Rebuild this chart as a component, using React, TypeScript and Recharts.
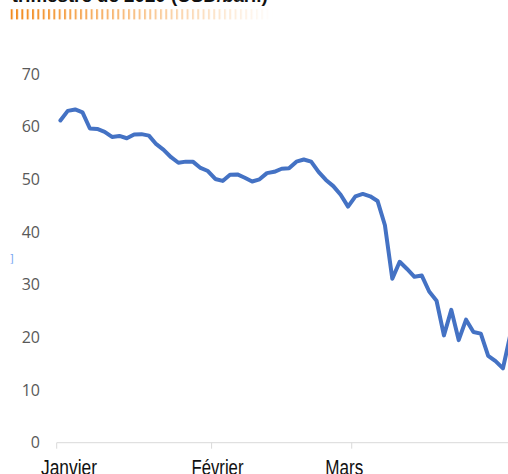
import { LineChart, Line, XAxis, YAxis } from "recharts";

// Prix du pétrole WTI, premier trimestre 2020 (USD/baril), jours de cotation
const MOIS = ["Janvier", "Février", "Mars"];

const JOURS_JANVIER = [2, 3, 6, 7, 8, 9, 10, 13, 14, 15, 16, 17, 21, 22, 23, 24, 27, 28, 29, 30, 31];
const JOURS_FEVRIER = [3, 4, 5, 6, 7, 10, 11, 12, 13, 14, 18, 19, 20, 21, 24, 25, 26, 27, 28];
const JOURS_MARS = [2, 3, 4, 5, 6, 9, 10, 11, 12, 13, 16, 17, 18, 19, 20, 23, 24, 25, 26, 27, 30, 31];

const PRIX_JANVIER = [
  61.17, 63.0, 63.27, 62.7, 59.65, 59.56, 59.02, 58.05, 58.24, 57.8, 58.53,
  58.58, 58.3, 56.67, 55.6, 54.2, 53.15, 53.36, 53.32, 52.16, 51.58,
];
const PRIX_FEVRIER = [
  50.07, 49.7, 50.88, 50.93, 50.3, 49.59, 50.0, 51.18, 51.43, 52.01, 52.09,
  53.36, 53.77, 53.36, 51.41, 49.88, 48.71, 47.07, 44.83,
];
const PRIX_MARS = [
  46.78, 47.23, 46.78, 45.9, 41.28, 31.13, 34.36, 32.98, 31.5, 31.73, 28.7,
  26.95, 20.37, 25.22, 19.48, 23.36, 21.01, 20.7, 16.5, 15.48, 14.1, 20.48,
];

const Y_TICKS = [0, 10, 20, 30, 40, 50, 60, 70];

const joursParMois = [JOURS_JANVIER, JOURS_FEVRIER, JOURS_MARS];
const prixParMois = [PRIX_JANVIER, PRIX_FEVRIER, PRIX_MARS];

const data = joursParMois
  .flatMap((jours, m) =>
    jours.map((jour, i) => ({ mois: MOIS[m], jour, prix: prixParMois[m][i] }))
  )
  .map((d, i) => ({ ...d, pos: i + 0.5 }));

const debutsDeMois = MOIS.map((m) => data.findIndex((d) => d.mois === m));

const AXIS_GREY = "#d9d9d9";
const LABEL_GREY = "#595959";

// month labels sit a bit off their tick in the original
const LABEL_STYLE: Record<string, { dx: number; width: number }> = {
  Janvier: { dx: 12.3, width: 56 },
  Février: { dx: 5.9, width: 52 },
  Mars: { dx: -7.5, width: 38 },
};

function MonthTick(props: any) {
  const { x, y, payload } = props;
  const label = MOIS[debutsDeMois.indexOf(payload.value)] ?? "";
  const s = LABEL_STYLE[label] ?? { dx: 0, width: 40 };
  return (
    <text
      x={x + s.dx}
      y={y + 24}
      textAnchor="middle"
      textLength={s.width}
      lengthAdjust="spacingAndGlyphs"
      fill="#111"
      fontSize={22}
      fontFamily="'Liberation Sans Narrow', 'Liberation Sans', Arial, sans-serif"
    >
      {label}
    </text>
  );
}

function Stripes() {
  return (
    <svg
      width={508}
      height={30}
      style={{ position: "absolute", left: 0, top: 0 }}
    >
      <defs>
        <pattern id="stripes" x={10.7} y={0} width={5.33} height={30} patternUnits="userSpaceOnUse">
          <rect x={0} y={0} width={2} height={30} fill="#f28a1c" />
        </pattern>
        <linearGradient id="fadeGrad" x1="0" x2="1" y1="0" y2="0">
          <stop offset="0" stopColor="#fff" stopOpacity={1} />
          <stop offset="0.15" stopColor="#fff" stopOpacity={0.85} />
          <stop offset="1" stopColor="#fff" stopOpacity={0} />
        </linearGradient>
        <mask id="fade">
          <rect x={10} y={0} width={264} height={30} fill="url(#fadeGrad)" />
        </mask>
      </defs>
      <text
        x={11.7}
        y={1.8}
        fontSize={19}
        fontWeight={700}
        fill="#111"
        textLength={256}
        lengthAdjust="spacingAndGlyphs"
        fontFamily="'Liberation Sans', Arial, sans-serif"
      >
        trimestre de 2020 (USD/baril)
      </text>
      <rect x={10} y={9.2} width={264} height={10.2} fill="url(#stripes)" mask="url(#fade)" />
    </svg>
  );
}

export default function App() {
  return (
    <div
      style={{
        position: "fixed",
        left: 0,
        top: 0,
        width: 508,
        height: 474,
        overflow: "hidden",
        background: "#fff",
      }}
    >
      <div style={{ position: "absolute", left: 0, top: 0 }}>
        <LineChart
          width={514}
          height={475}
          data={data}
          margin={{ top: 74, right: 0, bottom: 0, left: 0 }}
        >
          <XAxis
            type="number"
            dataKey="pos"
            domain={[0, data.length]}
            ticks={debutsDeMois}
            interval={0}
            allowDataOverflow
            height={32.3}
            tickSize={6}
            tickMargin={2}
            axisLine={{ stroke: AXIS_GREY, strokeWidth: 1 }}
            tickLine={{ stroke: AXIS_GREY, strokeWidth: 1 }}
            tick={<MonthTick />}
          />
          <YAxis
            type="number"
            domain={[0, 70]}
            ticks={Y_TICKS}
            interval={0}
            width={56.7}
            axisLine={false}
            tickLine={false}
            tickSize={0}
            tickMargin={16.7}
            tick={{ fill: LABEL_GREY, fontSize: 16, fontFamily: "'Open Sans', sans-serif" }}
          />
          <Line
            type="linear"
            dataKey="prix"
            stroke="#4472c4"
            strokeWidth={4}
            strokeLinejoin="round"
            strokeLinecap="round"
            dot={false}
            activeDot={false}
            isAnimationActive={false}
          />
        </LineChart>
      </div>
      <Stripes />
      <svg width={30} height={30} style={{ position: "absolute", left: 0, top: 245 }}>
        <text x={9.5} y={16.5} fontSize={11} fill="#7aa8f2" fontFamily="'DejaVu Sans', sans-serif">
          ]
        </text>
      </svg>
    </div>
  );
}
